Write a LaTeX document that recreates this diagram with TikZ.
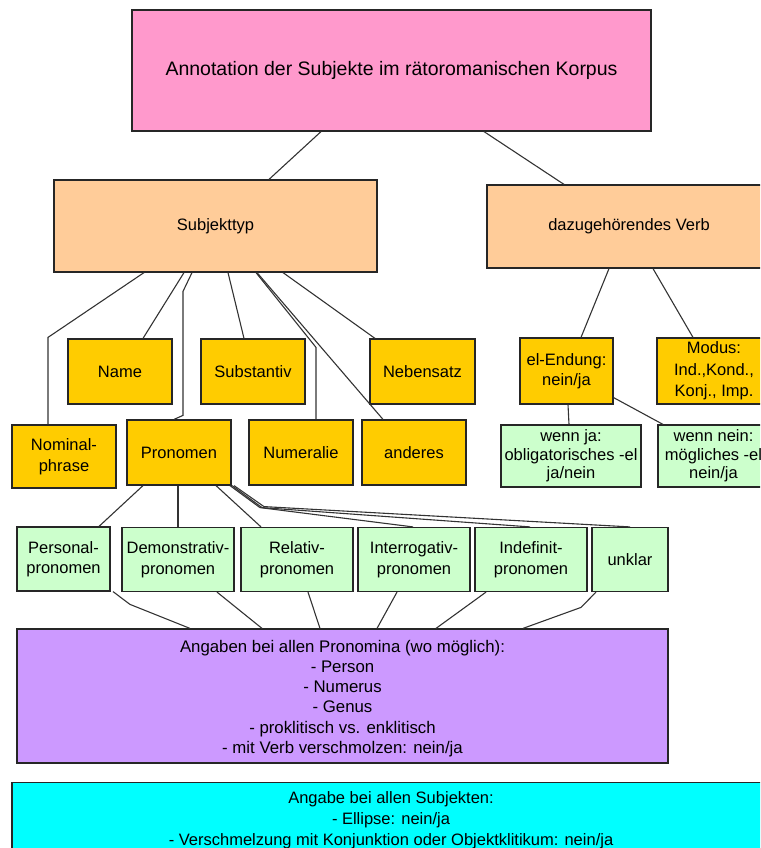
\documentclass[tikz,border=0pt]{standalone}
\usepackage{fontspec}
\setmainfont{Liberation Sans}
\begin{document}
\begin{tikzpicture}[x=1pt,y=-1pt,
  box/.style={draw=black!85,line width=1.2pt,inner sep=0pt,align=center,
    font=\fontsize{16.5}{20.5}\selectfont},
  pinkbox/.style={box,fill=pinkc,font=\fontsize{19.5}{23}\selectfont},
  orangebox/.style={box,fill=orangec},
  goldbox/.style={box,fill=goldc},
  greenbox/.style={box,fill=greenc},
  purplebox/.style={box,fill=purplec,font=\fontsize{16.8}{20.3}\selectfont},
  cyanbox/.style={box,fill=cyanc,font=\fontsize{16.5}{21}\selectfont},
  conn/.style={draw=black!80,line width=1.1pt}]
\definecolor{pinkc}{HTML}{FF99CC}
\definecolor{orangec}{HTML}{FFCC99}
\definecolor{goldc}{HTML}{FFCC00}
\definecolor{greenc}{HTML}{CCFFCC}
\definecolor{purplec}{HTML}{CC99FF}
\definecolor{cyanc}{HTML}{00FFFF}
\useasboundingbox (0,0) rectangle (760,848);
\clip (0,0) rectangle (760,848);

\node[pinkbox,minimum width=519pt,minimum height=121pt] (top) at (391.5,70.5) {Annotation der Subjekte im rätoromanischen Korpus};
\node[orangebox,minimum width=323pt,minimum height=92pt] (subj) at (215.5,226) {Subjekttyp};
\node[orangebox,minimum width=284pt,minimum height=83pt] (verb) at (629,226.5) {dazugehörendes Verb};

\node[goldbox,minimum width=104pt,minimum height=65pt] (name) at (120,371.5) {Name};
\node[goldbox,minimum width=104pt,minimum height=65pt] (subst) at (253,371.5) {Substantiv};
\node[goldbox,minimum width=105pt,minimum height=65pt] (neben) at (422.5,371.5) {Nebensatz};
\node[goldbox,minimum width=104pt,minimum height=63pt,font=\fontsize{16.5}{21.5}\selectfont] (nom) at (64,456.5) {Nominal-\\phrase};
\node[goldbox,minimum width=104pt,minimum height=65pt] (pron) at (179,452.5) {Pronomen};
\node[goldbox,minimum width=104pt,minimum height=65pt] (numer) at (301,452.5) {Numeralie};
\node[goldbox,minimum width=104pt,minimum height=65pt] (anders) at (414,452.5) {anderes};

\node[goldbox,minimum width=93pt,minimum height=66pt] (el) at (566.5,371) {el-Endung:\\nein/ja};
\node[goldbox,minimum width=114pt,minimum height=66pt,font=\fontsize{16.5}{21.5}\selectfont] (modus) at (714,371) {Modus:\\Ind.,Kond.,\\Konj., Imp.};
\node[greenbox,minimum width=140pt,minimum height=62pt,font=\fontsize{16.5}{18.5}\selectfont] (wja) at (571,456) {wenn ja:\\obligatorisches -el\\ja/nein};
\node[greenbox,minimum width=111pt,minimum height=62pt,font=\fontsize{16.5}{18.5}\selectfont] (wnein) at (713.5,456) {wenn nein:\\mögliches -el\\nein/ja};

\node[greenbox,minimum width=93pt,minimum height=64pt] (pers) at (63.5,559) {Personal-\\pronomen};
\node[greenbox,minimum width=112pt,minimum height=64pt] (dem) at (178,559.5) {Demonstrativ-\\pronomen};
\node[greenbox,minimum width=112pt,minimum height=64pt] (rel) at (297,559.5) {Relativ-\\pronomen};
\node[greenbox,minimum width=112pt,minimum height=64pt] (inter) at (414,559.5) {Interrogativ-\\pronomen};
\node[greenbox,minimum width=112pt,minimum height=64pt] (indef) at (531,559.5) {Indefinit-\\pronomen};
\node[greenbox,minimum width=76pt,minimum height=64pt] (unkl) at (630,559.5) {unklar};

\node[purplebox,minimum width=651pt,minimum height=134pt] (pall) at (342.5,696) {\rule{0pt}{17pt}Angaben bei allen Pronomina (wo möglich):\\- Person\\- Numerus\\- Genus\\- proklitisch vs. enklitisch\\- mit Verb verschmolzen: nein/ja};
\node[cyanbox,minimum width=758pt,minimum height=76pt,anchor=north] (sall) at (391,782) {Angabe bei allen Subjekten:\\- Ellipse: nein/ja\\- Verschmelzung mit Konjunktion oder Objektklitikum: nein/ja};

% top level
\draw[conn] ([xshift=-70.5pt]top.south) -- ([xshift=53.5pt]subj.north);
\draw[conn] ([xshift=92.5pt]top.south) -- ([xshift=-65pt]verb.north);

% Subjekttyp children
\draw[conn] ([xshift=-71.5pt]subj.south) -- ([xshift=-16pt,yshift=87pt]nom.north) -- ([xshift=-16pt]nom.north);
\draw[conn] ([xshift=-31.5pt]subj.south) -- ([xshift=23pt]name.north);
\draw[conn] ([xshift=-23.5pt]subj.south) -- ([xshift=4pt,yshift=128pt]pron.north) -- ([xshift=4pt,yshift=4pt]pron.north) -- ([xshift=-5pt]pron.north);
\draw[conn] ([xshift=12.5pt]subj.south) -- ([xshift=-9pt]subst.north);
\draw[conn] ([xshift=40.5pt]subj.south) -- ([xshift=15pt,yshift=72pt]numer.north) -- ([xshift=15pt]numer.north);
\draw[conn] ([xshift=41.5pt]subj.south) -- ([xshift=-31pt]anders.north);
\draw[conn] ([xshift=67.5pt]subj.south) -- ([xshift=-47.5pt]neben.north);

% Verb children
\draw[conn] ([xshift=-20pt]verb.south) -- ([xshift=14.5pt]el.north);
\draw[conn] ([xshift=24pt]verb.south) -- ([xshift=-21pt]modus.north);
\draw[conn] ([xshift=1.5pt]el.south) -- ([xshift=-2pt]wja.north);
\draw[conn] ([yshift=7pt]el.south east) -- ([xshift=-50.5pt]wnein.north);

% Pronomen children
\draw[conn] ([xshift=-36pt]pron.south) -- ([xshift=35.5pt]pers.north);
\draw[conn] ([xshift=-1pt]pron.south) -- (dem.north);
\draw[conn] ([xshift=37pt]pron.south) -- ([xshift=-36pt]rel.north);
\draw[conn] ([xshift=51pt]pron.south) -- ([xshift=81pt,yshift=-22pt]pron.south) -- ([xshift=-1pt]inter.north);
\draw[conn] ([xshift=53pt]pron.south) -- ([xshift=83pt,yshift=-22pt]pron.south) -- ([xshift=-1pt]indef.north);
\draw[conn] ([xshift=55pt]pron.south) -- ([xshift=85pt,yshift=-21pt]pron.south) -- (unkl.north);

% pronoun boxes to summary
\draw[conn] ([xshift=49.5pt]pers.south) -- ([xshift=-212.5pt,yshift=24pt]pall.north) -- ([xshift=-152.5pt]pall.north);
\draw[conn] ([xshift=39pt]dem.south) -- ([xshift=-80.5pt]pall.north);
\draw[conn] ([xshift=11pt]rel.south) -- ([xshift=-22.5pt]pall.north);
\draw[conn] ([xshift=-17pt]inter.south) -- ([xshift=34.5pt]pall.north);
\draw[conn] ([xshift=-45pt]indef.south) -- ([xshift=93.5pt]pall.north);
\draw[conn] ([xshift=-34pt]unkl.south) -- ([xshift=238.5pt,yshift=21pt]pall.north) -- ([xshift=180.5pt]pall.north);
\end{tikzpicture}
\end{document}
